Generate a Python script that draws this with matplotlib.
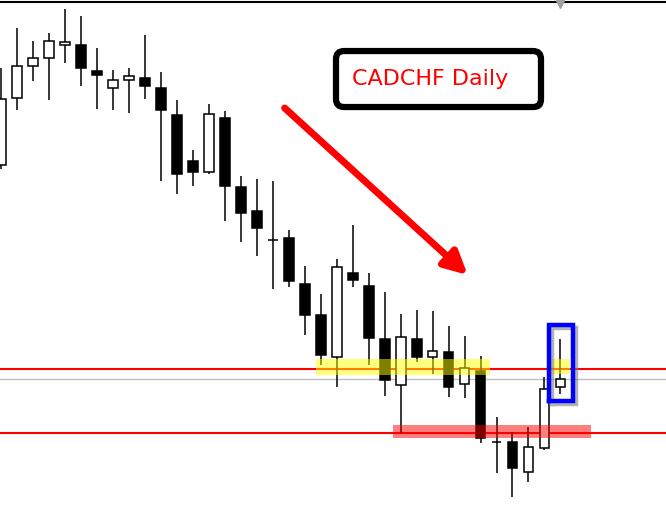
# CADCHF daily candles with support / resistance zones
import numpy as np
import matplotlib
matplotlib.use('Agg')
import matplotlib.pyplot as plt
import matplotlib.patheffects as pe
from matplotlib.patches import Rectangle, FancyBboxPatch

# daily OHLC (oldest -> newest)
opens = [0.8835, 0.8902, 0.8934, 0.8942, 0.8955, 0.8955, 0.8929, 0.8912, 0.8920, 0.8922,
         0.8912, 0.8885, 0.8839, 0.8828, 0.8882, 0.8813, 0.8789, 0.8760, 0.8762, 0.8716,
         0.8685, 0.8643, 0.8727, 0.8714, 0.8661, 0.8615, 0.8661, 0.8643, 0.8648, 0.8616,
         0.8629, 0.8558, 0.8558, 0.8528, 0.8552, 0.8613]
highs = [0.8932, 0.8972, 0.8959, 0.8967, 0.8991, 0.8984, 0.8952, 0.8930, 0.8932, 0.8965,
         0.8928, 0.8900, 0.8850, 0.8896, 0.8889, 0.8824, 0.8821, 0.8819, 0.8770, 0.8734,
         0.8706, 0.8741, 0.8775, 0.8727, 0.8708, 0.8686, 0.8690, 0.8689, 0.8674, 0.8664,
         0.8644, 0.8583, 0.8568, 0.8573, 0.8623, 0.8661]
lows = [0.8831, 0.8890, 0.8919, 0.8900, 0.8937, 0.8914, 0.8891, 0.8890, 0.8887, 0.8901,
        0.8819, 0.8806, 0.8814, 0.8826, 0.8779, 0.8758, 0.8744, 0.8711, 0.8713, 0.8665,
        0.8635, 0.8613, 0.8713, 0.8635, 0.8604, 0.8567, 0.8638, 0.8626, 0.8603, 0.8602,
        0.8557, 0.8527, 0.8503, 0.8518, 0.8550, 0.8606]
closes = [0.8901, 0.8934, 0.8942, 0.8959, 0.8958, 0.8932, 0.8925, 0.8920, 0.8924, 0.8914,
          0.8890, 0.8826, 0.8828, 0.8886, 0.8814, 0.8787, 0.8772, 0.8760, 0.8719, 0.8685,
          0.8645, 0.8733, 0.8720, 0.8662, 0.8620, 0.8663, 0.8643, 0.8649, 0.8613, 0.8632,
          0.8562, 0.8558, 0.8532, 0.8553, 0.8611, 0.8621]

resistance = 0.8631
support = 0.8567
last_price = 0.8621

# zones: (first bar, last bar, low, high)
yellow_zones = [(19.7, 30.6, 0.8625, 0.8641), (34.2, 35.6, 0.8626, 0.8641)]
red_zone = (24.5, 36.9, 0.8562, 0.8575)
blue_box = (34.3, 35.8, 0.8599, 0.8675)
arrow_start = (17.75, 0.8892)
arrow_end = (29.2, 0.8725)
title = 'CADCHF Daily'

x = np.arange(len(opens))
o = np.array(opens)
h = np.array(highs)
l = np.array(lows)
c = np.array(closes)

fig = plt.figure(figsize=(6.66, 5.17), dpi=100)
ax = fig.add_axes([0, 0, 1, 1])
ax.set_xlim(-0.05, 41.6)
ax.set_ylim(0.8483, 0.9000)
ax.axis('off')

# levels
ax.axhline(resistance, color='red', lw=1.5, zorder=1)
ax.axhline(support, color='red', lw=1.5, zorder=1)
ax.axhline(last_price, color='#c0c0c0', lw=1, zorder=1)
ax.axhline(0.8998, color='black', lw=1.5, zorder=1)
ax.plot([35], [0.8996], marker='v', color='#a0a0a0', ms=6, zorder=1)

# candles
ax.vlines(x, l, h, color='black', lw=1.1, zorder=2)
body_lo = np.minimum(o, c)
body_h = np.maximum(np.abs(c - o), 0.00005)
colors = ['white' if cc > oo else 'black' for oo, cc in zip(o, c)]
ax.bar(x, body_h, bottom=body_lo, width=0.62, color=colors, edgecolor='black',
       lw=1.1, zorder=3)

# zones
for x0, x1, y0, y1 in yellow_zones:
    ax.add_patch(Rectangle((x0, y0), x1 - x0, y1 - y0, color='yellow', alpha=0.5,
                           lw=0, zorder=4))
x0, x1, y0, y1 = red_zone
ax.add_patch(Rectangle((x0, y0), x1 - x0, y1 - y0, color='red', alpha=0.5, lw=0, zorder=4))

shadow = [pe.SimplePatchShadow(offset=(2, -2), shadow_rgbFace='gray', alpha=0.6), pe.Normal()]
line_shadow = [pe.SimpleLineShadow(offset=(2, -2), shadow_color='gray', alpha=0.6), pe.Normal()]

# blue box round the last bar
x0, x1, y0, y1 = blue_box
ax.plot([x0, x1, x1, x0, x0], [y0, y0, y1, y1, y0], color='blue', lw=3.2,
        solid_joinstyle='miter', zorder=5, path_effects=line_shadow)

# arrow
arr = ax.annotate('', xy=arrow_end, xytext=arrow_start,
                  arrowprops=dict(arrowstyle='-|>,head_length=0.55,head_width=0.28',
                                  lw=5, color='red', mutation_scale=25,
                                  capstyle='round', shrinkA=0, shrinkB=0),
                  zorder=6)
arr.arrow_patch.set_path_effects(shadow)

# title box
tb = FancyBboxPatch((0.5045, 0.7930), 0.3078, 0.1083, transform=ax.transAxes,
                    boxstyle='round,pad=0,rounding_size=0.012', mutation_aspect=666 / 517,
                    fc='white', ec='black', lw=4.5, zorder=7)
tb.set_path_effects(shadow)
ax.add_patch(tb)
ax.text(0.5285, 0.8356, title, transform=ax.transAxes, color='red', fontsize=16,
        ha='left', va='baseline', family='DejaVu Sans', zorder=8)

fig.savefig('out.png', dpi=100)
